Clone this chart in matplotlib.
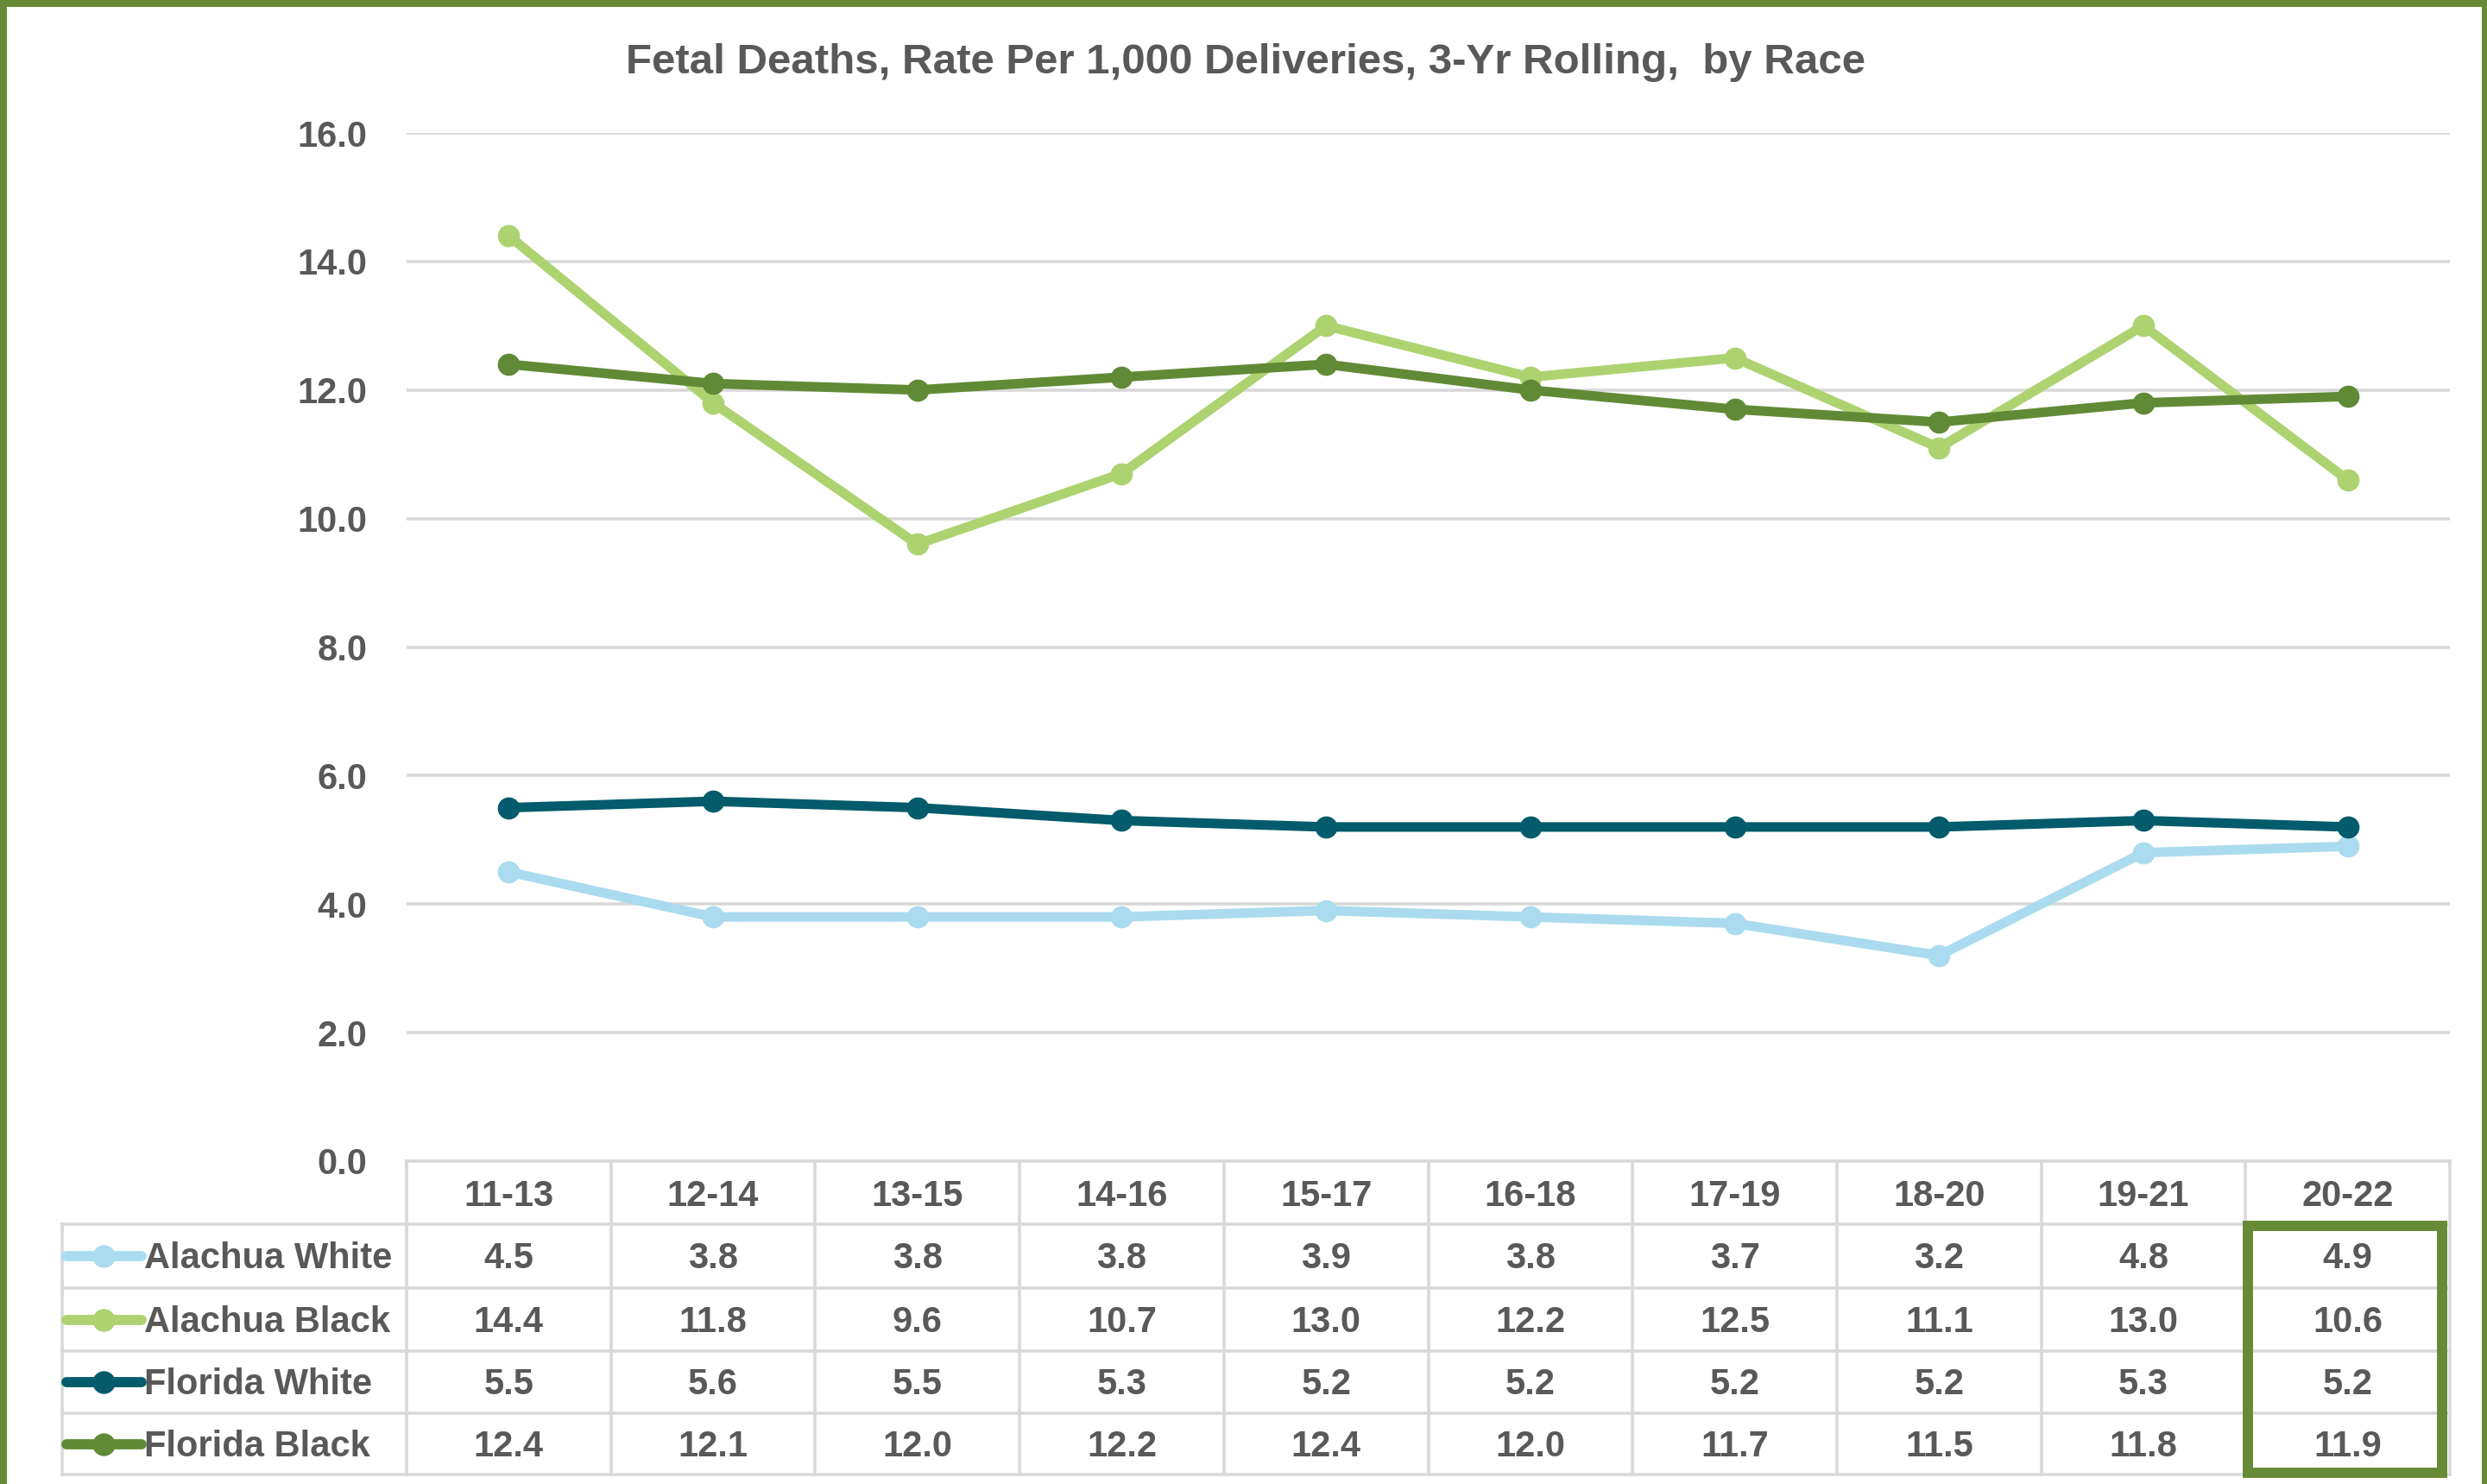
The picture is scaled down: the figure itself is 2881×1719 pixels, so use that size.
import numpy as np
import matplotlib
matplotlib.use("Agg")
import matplotlib.pyplot as plt
import matplotlib.transforms as mtransforms
from matplotlib.lines import Line2D
from matplotlib.patches import Rectangle

# ---------------- data ----------------
periods = ["11-13", "12-14", "13-15", "14-16", "15-17", "16-18", "17-19", "18-20", "19-21", "20-22"]
series_names = ["Alachua White", "Alachua Black", "Florida White", "Florida Black"]
alachua_white = [4.5, 3.8, 3.8, 3.8, 3.9, 3.8, 3.7, 3.2, 4.8, 4.9]
alachua_black = [14.4, 11.8, 9.6, 10.7, 13.0, 12.2, 12.5, 11.1, 13.0, 10.6]
florida_white = [5.5, 5.6, 5.5, 5.3, 5.2, 5.2, 5.2, 5.2, 5.3, 5.2]
florida_black = [12.4, 12.1, 12.0, 12.2, 12.4, 12.0, 11.7, 11.5, 11.8, 11.9]
y_ticks = [0, 2, 4, 6, 8, 10, 12, 14, 16]
title = "Fetal Deaths, Rate Per 1,000 Deliveries, 3-Yr Rolling,  by Race"

colors = ["#AADBEE", "#ADD371", "#035B6B", "#618A36"]
border_green = "#678A37"
text_gray = "#595959"
grid_gray = "#D9D9D9"

plt.rcParams["font.family"] = ["Liberation Sans", "DejaVu Sans"]
plt.rcParams["font.weight"] = "bold"

W, H = 2881, 1719
fig = plt.figure(figsize=(W / 100, H / 100), dpi=100)
fig.patch.set_facecolor("white")

def FX(x):
    return x / W

def FY(y):
    return 1 - y / H

# ---------------- plot area ----------------
left, right, top, bottom = 471, 2838, 154, 1345
ax = fig.add_axes([FX(left), FY(bottom), FX(right) - FX(left), FY(top) - FY(bottom)])
ax.set_xlim(-0.5, len(periods) - 0.5)
ax.set_ylim(0, 16)
for s in ax.spines.values():
    s.set_visible(False)
ax.set_xticks([])
ax.set_yticks(y_ticks)
ax.set_yticklabels([f"{v:.1f}" for v in y_ticks])
ax.tick_params(axis="y", length=0, pad=33, labelsize=30, labelcolor=text_gray)
for lab in ax.get_yticklabels():
    lab.set_fontweight("bold")
ax.yaxis.grid(True, color=grid_gray, lw=2.6)
ax.set_axisbelow(True)

x = np.arange(len(periods))
all_series = [alachua_white, alachua_black, florida_white, florida_black]
for vals, c in zip(all_series, colors):
    ax.plot(x, vals, color=c, lw=8.0, marker="o", ms=17.5, solid_capstyle="round", zorder=3)

# ---------------- title ----------------
fig.text(FX(1443), FY(85), title, ha="center", va="baseline", fontsize=35.5,
         fontweight="bold", color=text_gray)

# ---------------- data table ----------------
trans = mtransforms.blended_transform_factory(ax.transData, fig.transFigure)
row_edges = [1345, 1418, 1492, 1565, 1637, 1708]
leg_left = 72
tl = 2.6

# horizontal lines
fig.add_artist(Line2D([-0.5, len(periods) - 0.5], [FY(row_edges[0])] * 2, transform=trans,
                      color=grid_gray, lw=tl))
for ye in row_edges[1:]:
    fig.add_artist(Line2D([FX(leg_left), FX(right)], [FY(ye)] * 2, transform=fig.transFigure,
                          color=grid_gray, lw=tl))
# vertical lines
for b in np.arange(-0.5, len(periods), 1.0):
    fig.add_artist(Line2D([b, b], [FY(row_edges[0]), FY(row_edges[-1])], transform=trans,
                          color=grid_gray, lw=tl))
fig.add_artist(Line2D([FX(leg_left)] * 2, [FY(row_edges[1]), FY(row_edges[-1])],
                      transform=fig.transFigure, color=grid_gray, lw=tl))

# header
for i, p in enumerate(periods):
    fig.text(i, FY(1397), p, transform=trans, ha="center", va="baseline", fontsize=30,
             fontweight="bold", color=text_gray)

# rows
for r, (name, vals, c) in enumerate(zip(series_names, all_series, colors)):
    yc = (row_edges[r + 1] + row_edges[r + 2]) / 2
    yb = yc + 14
    fig.add_artist(Line2D([FX(77), FX(164)], [FY(yc)] * 2, transform=fig.transFigure,
                          color=c, lw=8.5, solid_capstyle="round"))
    fig.add_artist(Line2D([FX(120)], [FY(yc)], transform=fig.transFigure, color=c,
                          marker="o", ms=18, lw=0))
    fig.text(FX(167), FY(yb), name, ha="left", va="baseline", fontsize=30,
             fontweight="bold", color=text_gray)
    for i, v in enumerate(vals):
        fig.text(i, FY(yb), f"{v:.1f}", transform=trans, ha="center", va="baseline",
                 fontsize=30, fontweight="bold", color=text_gray)

# highlight box around last column
fig.add_artist(Rectangle((FX(2604), FY(1706)), FX(2829) - FX(2604), FY(1420) - FY(1706),
                         transform=fig.transFigure, fill=False, edgecolor=border_green,
                         lw=8.6, zorder=10))

# ---------------- outer border ----------------
fig.add_artist(Rectangle((0, FY(8)), 1, FY(0) - FY(8), transform=fig.transFigure,
                         facecolor=border_green, edgecolor="none", zorder=11))
fig.add_artist(Rectangle((0, 0), FX(8), 1, transform=fig.transFigure,
                         facecolor=border_green, edgecolor="none", zorder=11))
fig.add_artist(Rectangle((FX(2875), 0), FX(W) - FX(2875), 1, transform=fig.transFigure,
                         facecolor=border_green, edgecolor="none", zorder=11))

fig.savefig("out.png", dpi=100, facecolor="white")
